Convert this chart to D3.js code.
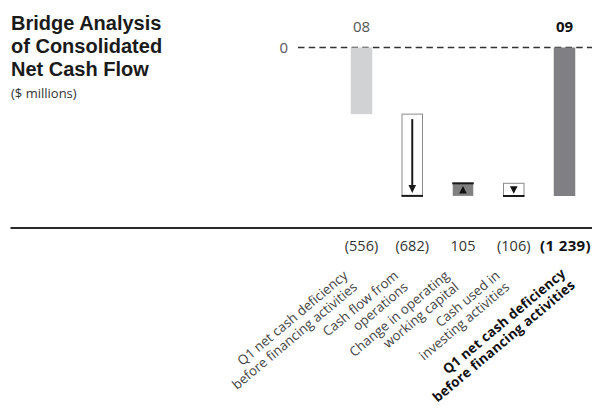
<!DOCTYPE html>
<html><head><meta charset="utf-8">
<script src="https://cdn.jsdelivr.net/npm/d3@7/dist/d3.min.js"></script>
<style>
html,body{margin:0;padding:0;background:#fff;}
svg{display:block;font-family:"Open Sans",sans-serif;}
</style></head>
<body>
<svg id="c" width="592" height="415"></svg>
<script>
const categories = [
  ["Q1 net cash deficiency","before financing activities"],
  ["Cash flow from","operations"],
  ["Change in operating","working capital"],
  ["Cash used in","investing activities"],
  ["Q1 net cash deficiency","before financing activities"]
];
const values = [-556, -682, 105, -106, -1239];
const valueLabels = ["(556)","(682)","105","(106)","(1 239)"];
const barTypes = ["total","delta","delta","delta","total"];
const yearLabels = ["08","","","","09"];
const titleLines = ["Bridge Analysis","of Consolidated","Net Cash Flow"];
const unitLabel = "($ millions)";
const zeroLabel = "0";

const svg = d3.select("#c");
const x = d3.scalePoint().domain(d3.range(values.length)).range([361.5, 564.5]);
const y = d3.scaleLinear().domain([0, -1239]).range([47.5, 196]);
const bw = 21.5;
const last = values.length - 1;

// title
titleLines.forEach((s,i)=>{
  svg.append("text").attr("x", 11).attr("y", 30 + i*23)
    .attr("font-family", "'Liberation Sans', Arial, sans-serif")
    .attr("font-weight", "bold").attr("font-size", 20).attr("fill", "#1a1a1a").text(s);
});
svg.append("text").attr("x", 11).attr("y", 98).attr("font-size", 13).attr("fill", "#333").text(unitLabel);

// zero dashed line
svg.append("line").attr("x1", 298).attr("x2", 592).attr("y1", y(0)).attr("y2", y(0))
  .attr("stroke", "#333").attr("stroke-width", 1.5).attr("stroke-dasharray", "6.5,4.2");
svg.append("text").attr("x", 288).attr("y", y(0) + 5).attr("text-anchor", "end")
  .attr("font-size", 15).attr("fill", "#555").text(zeroLabel);

// year labels
yearLabels.forEach((s,i)=>{
  if(!s) return;
  svg.append("text").attr("x", x(i)).attr("y", 32).attr("text-anchor","middle")
    .attr("font-size", 15).attr("font-weight", i===last ? "bold" : "normal")
    .attr("fill", i===last ? "#111" : "#555").text(s);
});

// bars
let cum = 0;
values.forEach((v,i)=>{
  const cx = x(i), x0 = cx - bw/2;
  if(barTypes[i]==="total"){
    svg.append("rect").attr("x", x0).attr("width", bw).attr("y", y(0)).attr("height", y(v)-y(0))
      .attr("fill", i===0 ? "#d1d2d4" : "#808084");
    cum = v;
  } else {
    const start = cum, end = cum + v;
    const top = Math.min(y(start), y(end)), bot = Math.max(y(start), y(end));
    const up = v > 0;
    svg.append("rect").attr("x", x0+0.5).attr("width", bw-1).attr("y", top).attr("height", bot-top)
      .attr("fill", up ? "#808080" : "#fff").attr("stroke", up ? "none" : "#8a8a8a").attr("stroke-width", 1);
    svg.append("line").attr("x1", x0).attr("x2", x0+bw).attr("y1", y(end)).attr("y2", y(end))
      .attr("stroke", "#1a1a1a").attr("stroke-width", 2);
    const h = bot - top;
    if(h > 30){
      const ys = y(start) + 5, ye = y(end) - 3;
      svg.append("line").attr("x1", cx).attr("x2", cx).attr("y1", ys).attr("y2", ye - 7)
        .attr("stroke", "#1a1a1a").attr("stroke-width", 2);
      svg.append("path").attr("d", `M${cx-3.8},${ye-8} L${cx+3.8},${ye-8} L${cx},${ye} Z`).attr("fill", "#1a1a1a");
    } else if(up){
      const b = y(start) - 2.5, tp = b - 7.5;
      svg.append("path").attr("d", `M${cx-3.8},${b} L${cx+3.8},${b} L${cx},${tp} Z`).attr("fill", "#111");
    } else {
      const tp = y(start) + 3, b = tp + 7.5;
      svg.append("path").attr("d", `M${cx-3.8},${tp} L${cx+3.8},${tp} L${cx},${b} Z`).attr("fill", "#111");
    }
    cum = end;
  }
});

// baseline
svg.append("line").attr("x1", 10.5).attr("x2", 592).attr("y1", 228).attr("y2", 228)
  .attr("stroke", "#2a2a2a").attr("stroke-width", 2);

// value labels
valueLabels.forEach((s,i)=>{
  const b = i===last;
  svg.append("text").attr("x", b ? x(i)+1 : x(i)).attr("y", 251).attr("text-anchor","middle")
    .attr("font-size", b ? 15 : 14.5).attr("font-weight", b ? "bold" : "normal")
    .attr("letter-spacing", b ? 0.4 : 0)
    .attr("fill", b ? "#111" : "#333").text(s);
});

// category labels rotated
categories.forEach((lines,i)=>{
  const b = i===last;
  const dx = b ? 2 : -13;
  const g = svg.append("g").attr("transform", `translate(${x(i)+dx},${b ? 275 : 277}) rotate(-40)`);
  lines.forEach((ln,j)=>{
    g.append("text").attr("x", 0).attr("y", j*15).attr("text-anchor","end")
      .attr("font-size", b ? 13.5 : 13.3).attr("font-weight", b ? "bold" : "normal")
      .attr("letter-spacing", b ? 0.2 : 0)
      .attr("fill", b ? "#111" : "#444").text(ln);
  });
});
</script>
</body></html>
